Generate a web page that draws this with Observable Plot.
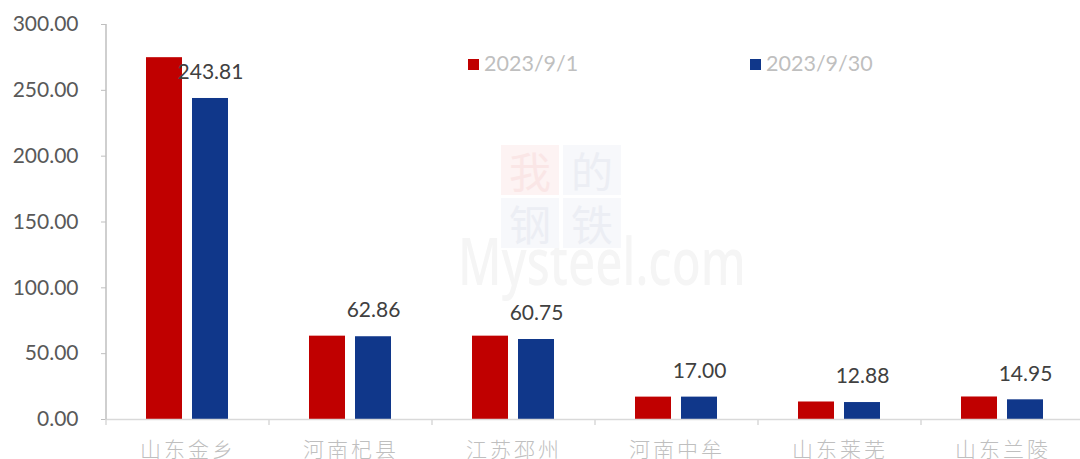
<!DOCTYPE html>
<html>
<head>
<meta charset="utf-8">
<script src="https://cdn.jsdelivr.net/npm/d3@7"></script>
<script src="https://cdn.jsdelivr.net/npm/@observablehq/plot@0.6"></script>
<style>
  html, body { margin: 0; padding: 0; background: #ffffff; }
  #wrap { position: relative; width: 1080px; height: 459px; overflow: hidden; background: #fff; }
  #chart svg { display: block; overflow: hidden; }
  .legend { position: absolute; top: 50px; font-family: Lato, "Liberation Sans", sans-serif; font-size: 21.5px; color: #bfbfbf; line-height: 26px; white-space: nowrap; }
  .legend .sw { display: inline-block; width: 11px; height: 11px; margin-right: 5px; vertical-align: 1px; }
  .wm { position: absolute; left: 0; top: 0; width: 1080px; height: 459px; pointer-events: none; }
  .wm .sq { position: absolute; width: 58px; height: 50px; font-family: "Noto Sans CJK SC", sans-serif; font-size: 42px; line-height: 50px; text-align: center; font-weight: 400; }
  .wm .txt { position: absolute; left: 458px; top: 214px; font-family: "Noto Sans", sans-serif; font-weight: 500; font-size: 66px; color: #f5f5f5; transform: scaleX(0.72); transform-origin: left top; }
</style>
</head>
<body>
<div id="wrap">
  <div class="wm">
    <div class="txt">Mysteel.com</div>
    <div class="sq" style="left:501px;top:145px;background:#fdf3f3;color:#fae6e6;">我</div>
    <div class="sq" style="left:563px;top:145px;background:#f7f8fb;color:#eceef4;">的</div>
    <div class="sq" style="left:501px;top:198px;background:#f7f8fb;color:#eceef4;">钢</div>
    <div class="sq" style="left:563px;top:198px;background:#f7f8fb;color:#eceef4;">铁</div>
  </div>
  <div id="chart" style="position:absolute;left:0;top:0;"></div>
  <div id="legend"></div>
</div>
<script>
const categories = ["山东金乡", "河南杞县", "江苏邳州", "河南中牟", "山东莱芜", "山东兰陵"];
const seriesNames = ["2023/9/1", "2023/9/30"];
const values0901 = [274.8, 63.3, 63.3, 17.0, 13.3, 17.1];
const values0930 = [243.81, 62.86, 60.75, 17.00, 12.88, 14.95];
const seriesColors = ["#C00000", "#10378A"];
const yTicks = [0, 50, 100, 150, 200, 250, 300];

const data = categories.flatMap((c, i) => [
  {cat: c, series: seriesNames[0], value: values0901[i]},
  {cat: c, series: seriesNames[1], value: values0930[i]}
]);
const labelled = data.filter(d => d.series === seriesNames[1]);

const chart = Plot.plot({
  width: 1080,
  height: 459,
  marginLeft: 104,
  marginRight: -5,
  marginTop: 24,
  marginBottom: 40,
  style: {background: "transparent", overflow: "hidden"},
  fx: {domain: categories, padding: 0, label: null, axis: null},
  x: {domain: seriesNames, paddingInner: 0.21, paddingOuter: 0.875, axis: null},
  y: {domain: [0, 300], axis: null},
  color: {domain: seriesNames, range: seriesColors},
  marks: [
    Plot.barY(data, {fx: "cat", x: "series", y: "value", fill: "series"}),
    Plot.ruleY([0], {stroke: "#d9d9d9", strokeWidth: 1.5}),
    Plot.text(labelled, {fx: "cat", x: "series", y: "value", text: d => d.value.toFixed(2), dy: -26, fontSize: 21, fill: "#404040", fontFamily: "Lato, 'Liberation Sans', sans-serif"}),
    Plot.axisY({ticks: yTicks, tickFormat: d3.format(".2f"), tickSize: 5, tickPadding: 23, stroke: "#bfbfbf", fill: "#595959", fontSize: 21, fontFamily: "Lato, 'Liberation Sans', sans-serif", label: null}),
    Plot.axisFx({anchor: "bottom", tickSize: 0, tickPadding: 23, fill: "#bfbfbf", fontSize: 21, fontFamily: "'Noto Sans CJK SC', sans-serif", fontWeight: 300, label: null})
  ]
});
document.getElementById("chart").appendChild(chart);

// axis line and category boundary ticks, from the fx / y scales
const svg = d3.select(chart);
const fx = chart.scale("fx");
const y = chart.scale("y");
const y0 = y.apply(0);
const y300 = y.apply(300);
const left = fx.apply(categories[0]);
svg.append("line").attr("x1", left).attr("x2", left).attr("y1", y300).attr("y2", y0 + 1)
  .attr("stroke", "#bfbfbf").attr("stroke-width", 1.5);
const bounds = categories.map(c => fx.apply(c)).concat([fx.apply(categories[categories.length - 1]) + fx.step]);
svg.append("g").selectAll("line").data(bounds).join("line")
  .attr("x1", d => d).attr("x2", d => d).attr("y1", y0).attr("y2", y0 + 6)
  .attr("stroke", "#d9d9d9").attr("stroke-width", 1.5);
svg.selectAll("text").filter(function() { return this.closest("[aria-label='fx-axis tick label']"); })
  .style("letter-spacing", "3px");

// legend
const legend = document.getElementById("legend");
const legendX = [468, 750];
seriesNames.forEach((s, i) => {
  const d = document.createElement("div");
  d.className = "legend";
  d.style.left = legendX[i] + "px";
  d.innerHTML = `<span class="sw" style="background:${seriesColors[i]}"></span>${s}`;
  legend.appendChild(d);
});
</script>
</body>
</html>
